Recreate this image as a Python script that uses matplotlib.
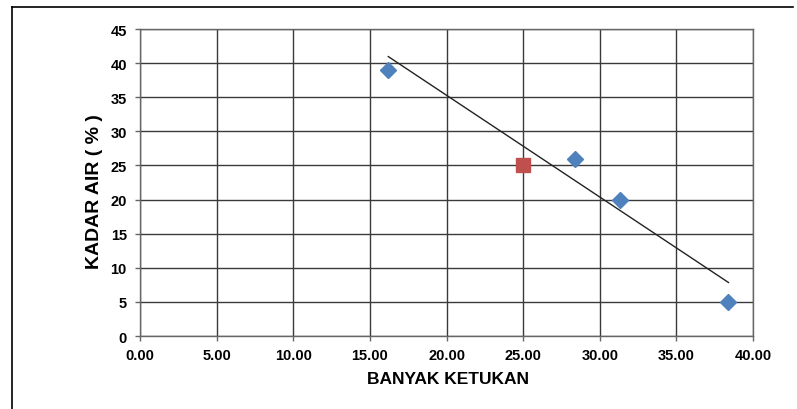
import matplotlib
matplotlib.use("Agg")
import matplotlib.pyplot as plt
import numpy as np
from matplotlib.lines import Line2D

# measured points (blue diamonds) and the highlighted point (red square)
ketukan = [16.2, 28.4, 31.3, 38.4]
kadar_air = [39, 26, 20, 5]
ketukan_25 = [25.0]
kadar_air_25 = [25.0]

x_ticks = [0, 5, 10, 15, 20, 25, 30, 35, 40]
y_ticks = [0, 5, 10, 15, 20, 25, 30, 35, 40, 45]

BLUE = "#4F81BD"
RED = "#C0504D"
GRID = "#3a3a3a"

plt.rcParams["font.family"] = ["Liberation Sans", "DejaVu Sans"]

fig = plt.figure(figsize=(7.97, 4.10), dpi=100, facecolor="white")
ax = fig.add_axes([0.1757, 0.178, 0.7691, 0.7488])

# linear trendline (least squares), drawn over the data range
coef = np.polyfit(ketukan, kadar_air, 1)
xt = np.array([min(ketukan), max(ketukan)])
ax.plot(xt, np.polyval(coef, xt), color="#222222", lw=1.0, zorder=3)

ax.plot(ketukan, kadar_air, linestyle="none", marker="D", markersize=8.5,
        color=BLUE, zorder=4)
ax.plot(ketukan_25, kadar_air_25, linestyle="none", marker="s", markersize=10,
        color=RED, zorder=4)

ax.set_xlim(0, 40)
ax.set_ylim(0, 45)
ax.set_xticks(x_ticks)
ax.set_yticks(y_ticks)
ax.set_xticklabels([f"{v:.2f}" for v in x_ticks])
ax.grid(True, color=GRID, lw=1.0)
ax.set_axisbelow(True)
for s in ax.spines.values():
    s.set_color("#666666")
    s.set_linewidth(1.0)
ax.tick_params(direction="out", length=3.5, width=1, color="#666666",
               labelsize=10.5)
ax.tick_params(axis="y", pad=6)
ax.tick_params(axis="x", pad=5)
for lbl in ax.get_xticklabels() + ax.get_yticklabels():
    lbl.set_fontweight("bold")

ax.set_xlabel("BANYAK KETUKAN", fontsize=12.5, fontweight="bold", va="center")
ax.xaxis.set_label_coords(0.5016, -0.138)
ax.set_ylabel("KADAR AIR ( % )", fontsize=14, fontweight="bold", va="center")
ax.yaxis.set_label_coords(-0.075, 0.473)

# cropped frame: top and left edge of the chart box
fig.add_artist(Line2D([0.015, 0.995], [0.980, 0.980], color="black", lw=1.2,
                      transform=fig.transFigure))
fig.add_artist(Line2D([0.015, 0.015], [0.0, 0.980], color="black", lw=1.2,
                      transform=fig.transFigure))

fig.savefig("out.png", dpi=100, facecolor="white")
